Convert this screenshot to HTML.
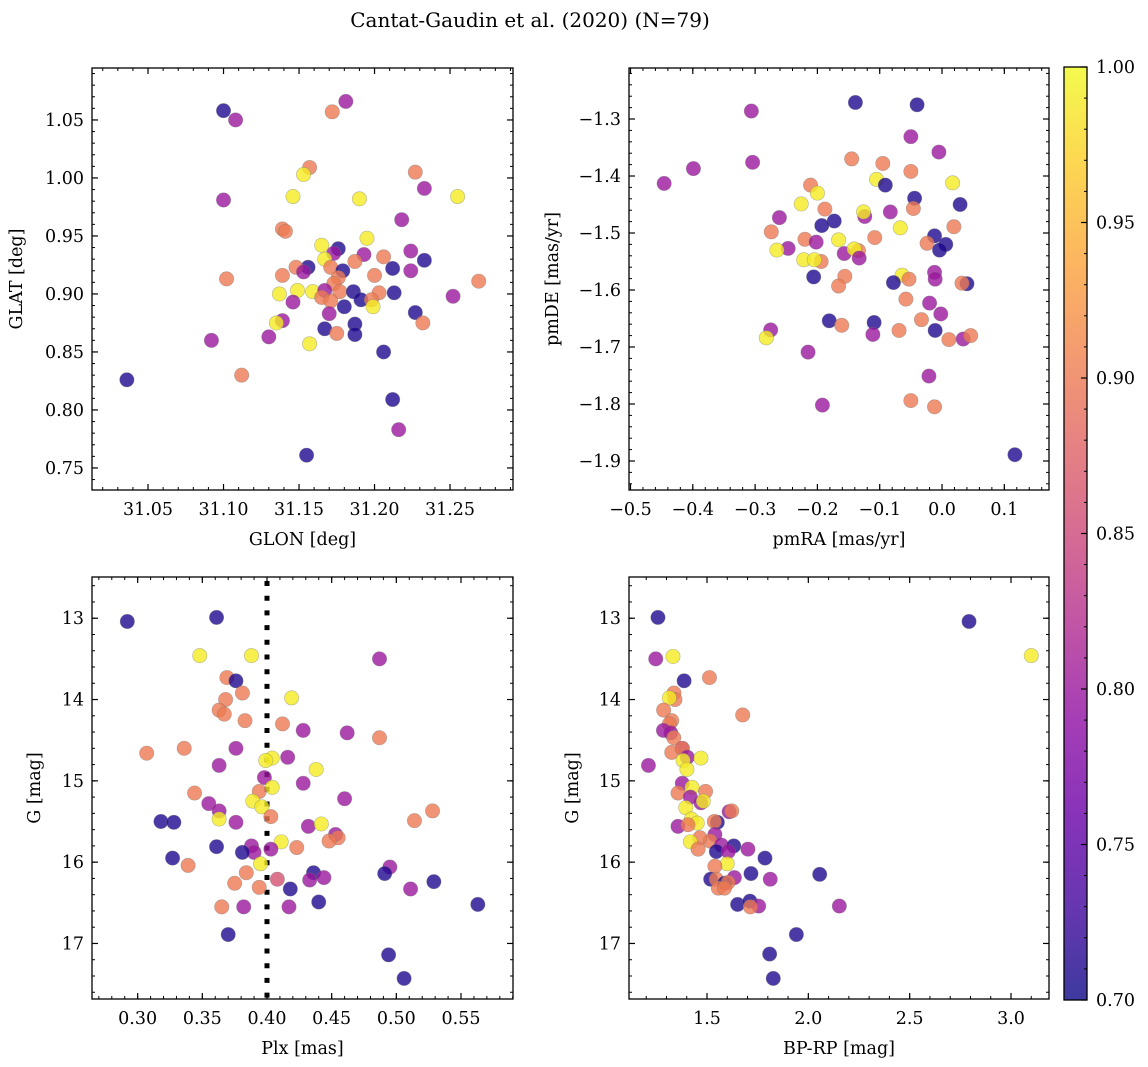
<!DOCTYPE html>
<html><head><meta charset="utf-8"><style>
html,body{margin:0;padding:0;background:#fff}
svg{display:block;font-family:"DejaVu Serif","Liberation Serif",serif}
</style></head><body>
<svg id="fig" width="1148" height="1067" viewBox="0 0 1148 1067">
<text x="530" y="27" text-anchor="middle" font-size="20">Cantat-Gaudin et al. (2020) (N=79)</text>
</svg>
<script>
// Panel 1: GLON / GLAT
const glon=[31.100,31.108,31.172,31.181,31.157,31.153,31.227,31.233,31.100,31.146,31.190,31.255,31.218,31.139,31.141,31.195,31.165,31.176,31.173,31.193,31.224,31.206,31.233,31.167,31.187,31.156,31.148,31.171,31.153,31.179,31.212,31.224,31.102,31.139,31.176,31.200,31.269,31.173,31.137,31.149,31.159,31.167,31.177,31.186,31.203,31.213,31.252,31.165,31.171,31.191,31.198,31.146,31.180,31.199,31.170,31.227,31.139,31.135,31.232,31.187,31.167,31.175,31.187,31.092,31.130,31.157,31.206,31.036,31.112,31.212,31.216,31.155];
const glat=[1.058,1.050,1.057,1.066,1.009,1.003,1.005,0.991,0.981,0.984,0.982,0.984,0.964,0.956,0.954,0.948,0.942,0.939,0.935,0.934,0.937,0.932,0.929,0.930,0.928,0.923,0.923,0.923,0.919,0.920,0.922,0.920,0.913,0.916,0.914,0.916,0.911,0.909,0.900,0.903,0.902,0.903,0.902,0.902,0.901,0.901,0.898,0.897,0.894,0.895,0.895,0.893,0.889,0.889,0.883,0.884,0.877,0.875,0.875,0.874,0.870,0.866,0.865,0.860,0.863,0.857,0.850,0.826,0.830,0.809,0.783,0.761];
const prob1=[0.71,0.80,0.90,0.80,0.90,0.99,0.90,0.80,0.80,0.99,0.99,0.99,0.80,0.90,0.90,0.99,0.99,0.71,0.80,0.80,0.80,0.90,0.71,0.99,0.90,0.71,0.90,0.90,0.80,0.71,0.71,0.80,0.90,0.90,0.90,0.90,0.90,0.90,0.99,0.99,0.99,0.80,0.90,0.71,0.90,0.71,0.80,0.90,0.90,0.71,0.90,0.80,0.71,0.99,0.80,0.71,0.80,0.99,0.90,0.71,0.71,0.90,0.71,0.80,0.80,0.99,0.71,0.71,0.90,0.71,0.80,0.71];
// Panel 2: pmRA / pmDE
const pmra=[-0.139,-0.040,-0.306,-0.050,-0.005,-0.145,-0.304,-0.095,-0.399,-0.050,-0.446,-0.105,-0.091,0.017,-0.211,-0.200,-0.044,-0.226,0.029,-0.046,-0.188,-0.124,-0.126,-0.083,-0.261,-0.173,-0.193,-0.067,0.019,-0.274,-0.012,-0.108,-0.220,-0.166,-0.202,-0.024,0.006,-0.004,-0.247,-0.265,-0.157,-0.134,-0.141,-0.133,-0.194,-0.222,-0.205,-0.012,-0.011,-0.156,-0.206,-0.064,-0.053,-0.078,0.040,0.032,-0.166,-0.058,-0.020,-0.002,-0.033,-0.181,-0.109,-0.161,-0.275,-0.011,-0.069,-0.111,0.011,0.034,0.046,-0.282,-0.215,-0.021,-0.192,-0.050,-0.012,0.117];
const pmde=[-1.271,-1.275,-1.286,-1.331,-1.358,-1.370,-1.376,-1.378,-1.387,-1.392,-1.413,-1.406,-1.416,-1.412,-1.416,-1.430,-1.439,-1.449,-1.450,-1.457,-1.458,-1.471,-1.463,-1.463,-1.473,-1.479,-1.487,-1.491,-1.489,-1.498,-1.505,-1.508,-1.511,-1.512,-1.516,-1.518,-1.520,-1.530,-1.527,-1.530,-1.536,-1.531,-1.528,-1.544,-1.550,-1.547,-1.547,-1.569,-1.581,-1.576,-1.577,-1.574,-1.581,-1.587,-1.589,-1.588,-1.593,-1.616,-1.623,-1.642,-1.652,-1.654,-1.657,-1.662,-1.670,-1.671,-1.671,-1.678,-1.687,-1.686,-1.680,-1.684,-1.709,-1.751,-1.802,-1.794,-1.805,-1.889];
const prob2=[0.71,0.71,0.80,0.80,0.80,0.90,0.80,0.90,0.80,0.90,0.80,0.99,0.71,0.99,0.90,0.99,0.71,0.99,0.71,0.90,0.90,0.80,0.99,0.80,0.80,0.71,0.71,0.99,0.90,0.90,0.71,0.90,0.90,0.99,0.80,0.90,0.71,0.71,0.80,0.99,0.80,0.90,0.99,0.80,0.90,0.99,0.99,0.80,0.80,0.90,0.71,0.99,0.90,0.71,0.71,0.90,0.90,0.90,0.80,0.80,0.90,0.71,0.71,0.90,0.80,0.71,0.90,0.80,0.90,0.80,0.90,0.99,0.80,0.80,0.80,0.90,0.90,0.71];
// Panel 3: Plx / G
const plx=[0.292,0.361,0.348,0.388,0.487,0.369,0.376,0.381,0.368,0.419,0.363,0.367,0.383,0.412,0.428,0.462,0.487,0.376,0.307,0.336,0.363,0.416,0.404,0.399,0.438,0.398,0.428,0.404,0.394,0.344,0.460,0.355,0.389,0.396,0.528,0.363,0.403,0.363,0.514,0.318,0.328,0.376,0.432,0.442,0.453,0.455,0.448,0.411,0.361,0.388,0.390,0.381,0.403,0.423,0.327,0.395,0.339,0.495,0.491,0.436,0.384,0.408,0.433,0.444,0.529,0.375,0.394,0.418,0.511,0.440,0.563,0.365,0.382,0.417,0.370,0.494,0.506];
const g3=[13.04,12.99,13.46,13.46,13.50,13.73,13.77,13.92,14.00,13.98,14.13,14.18,14.26,14.30,14.38,14.41,14.47,14.60,14.66,14.60,14.81,14.71,14.72,14.75,14.86,14.96,15.03,15.08,15.13,15.15,15.22,15.28,15.25,15.32,15.37,15.37,15.44,15.47,15.49,15.50,15.51,15.51,15.56,15.53,15.66,15.70,15.74,15.75,15.81,15.80,15.88,15.88,15.84,15.82,15.95,16.02,16.04,16.06,16.14,16.13,16.13,16.21,16.22,16.19,16.24,16.26,16.31,16.33,16.33,16.49,16.52,16.55,16.55,16.55,16.89,17.14,17.43];
const prob3=[0.71,0.71,0.99,0.99,0.80,0.90,0.71,0.90,0.90,0.99,0.90,0.90,0.90,0.90,0.80,0.80,0.90,0.80,0.90,0.90,0.80,0.80,0.99,0.99,0.99,0.80,0.80,0.99,0.90,0.90,0.80,0.80,0.99,0.99,0.90,0.80,0.90,0.99,0.90,0.71,0.71,0.80,0.80,0.99,0.80,0.90,0.90,0.99,0.71,0.80,0.80,0.71,0.80,0.90,0.71,0.99,0.90,0.80,0.71,0.71,0.90,0.86,0.80,0.80,0.71,0.90,0.90,0.71,0.80,0.71,0.71,0.90,0.80,0.80,0.71,0.71,0.71];
// Panel 4: BP-RP / G
const bprp=[1.258,2.793,1.247,1.332,3.100,1.387,1.512,1.337,1.342,1.314,1.286,1.676,1.326,1.314,1.285,1.321,1.336,1.378,1.326,1.378,1.211,1.403,1.382,1.470,1.401,1.378,1.426,1.493,1.357,1.418,1.470,1.482,1.395,1.609,1.622,1.551,1.536,1.423,1.452,1.357,1.406,1.539,1.515,1.465,1.418,1.571,1.632,1.546,1.605,1.456,1.702,1.786,1.600,1.539,1.717,2.056,1.635,1.518,1.546,1.812,1.587,1.604,1.556,1.586,1.651,1.712,1.755,1.714,2.153,1.941,1.809,1.827];
const g4=[12.99,13.04,13.50,13.47,13.46,13.77,13.73,13.92,14.00,13.98,14.13,14.19,14.26,14.30,14.38,14.41,14.47,14.60,14.65,14.60,14.81,14.71,14.75,14.72,14.86,15.03,15.08,15.13,15.15,15.20,15.27,15.25,15.33,15.38,15.37,15.51,15.50,15.47,15.52,15.56,15.54,15.66,15.74,15.70,15.75,15.79,15.80,15.87,15.87,15.84,15.84,15.95,16.02,16.05,16.14,16.15,16.19,16.21,16.21,16.21,16.26,16.25,16.32,16.32,16.52,16.48,16.54,16.55,16.54,16.89,17.13,17.43];
const prob4=[0.71,0.71,0.80,0.99,0.99,0.71,0.90,0.90,0.90,0.99,0.90,0.90,0.90,0.90,0.80,0.80,0.90,0.80,0.90,0.90,0.80,0.80,0.99,0.99,0.99,0.80,0.99,0.90,0.90,0.80,0.80,0.99,0.99,0.80,0.90,0.71,0.90,0.99,0.99,0.80,0.90,0.80,0.90,0.90,0.99,0.80,0.71,0.71,0.80,0.90,0.80,0.71,0.99,0.90,0.71,0.71,0.80,0.71,0.90,0.80,0.71,0.90,0.90,0.90,0.71,0.71,0.80,0.90,0.80,0.71,0.71,0.71];
const xt1=["31.05","31.10","31.15","31.20","31.25"], yt1=["0.75","0.80","0.85","0.90","0.95","1.00","1.05"];
const xt2=["−0.5","−0.4","−0.3","−0.2","−0.1","0.0","0.1"], yt2=["−1.9","−1.8","−1.7","−1.6","−1.5","−1.4","−1.3"];
const xt3=["0.30","0.35","0.40","0.45","0.50","0.55"], yt3=["13","14","15","16","17"];
const xt4=["1.5","2.0","2.5","3.0"];
const cbTicks=["0.70","0.75","0.80","0.85","0.90","0.95","1.00"];

const NS="http://www.w3.org/2000/svg";
const svg=document.getElementById('fig');
function el(tag,attrs,parent){const e=document.createElementNS(NS,tag);for(const k in attrs)e.setAttribute(k,attrs[k]);(parent||svg).appendChild(e);return e;}
const stops=[[13,8,135],[65,4,157],[106,0,168],[143,13,164],[177,42,144],[204,71,120],[225,100,98],[242,132,75],[252,166,54],[252,206,37],[240,249,33]];
function plasma(t){t=Math.max(0,Math.min(1,t));const f=t*10,i=Math.min(9,Math.floor(f)),u=f-i;const a=stops[i],b=stops[i+1];return 'rgb('+a.map((v,k)=>Math.round(v+(b[k]-v)*u)).join(',')+')';}
const cnorm=v=>(v-0.7)/0.3;
const FS=17.5;

function panel(o){
  const g=el('g',{});
  
  
  const sx=v=>o.x0+(v-o.xl[0])/(o.xl[1]-o.xl[0])*(o.x1-o.x0);
  const sy=v=>o.y1-(v-o.yl[0])/(o.yl[1]-o.yl[0])*(o.y1-o.y0);
  const eps=1e-9;
  for(let v=Math.ceil(o.xl[0]/o.xm-eps)*o.xm;v<=o.xl[1]+eps;v+=o.xm){const x=sx(v);
    el('line',{x1:x,x2:x,y1:o.y1,y2:o.y1-3,stroke:'#000','stroke-width':1},g);
    el('line',{x1:x,x2:x,y1:o.y0,y2:o.y0+3,stroke:'#000','stroke-width':1},g);}
  for(let v=Math.ceil(Math.min(...o.yl)/o.ym-eps)*o.ym;v<=Math.max(...o.yl)+eps;v+=o.ym){const y=sy(v);
    el('line',{x1:o.x0,x2:o.x0+3,y1:y,y2:y,stroke:'#000','stroke-width':1},g);
    el('line',{x1:o.x1,x2:o.x1-3,y1:y,y2:y,stroke:'#000','stroke-width':1},g);}
  o.xt.forEach(s=>{const v=parseFloat(s.replace('−','-'));const x=sx(v);
    el('line',{x1:x,x2:x,y1:o.y1,y2:o.y1-6,stroke:'#000','stroke-width':1.2},g);
    el('line',{x1:x,x2:x,y1:o.y0,y2:o.y0+6,stroke:'#000','stroke-width':1.2},g);
    const t=el('text',{x:x,y:o.y1+25,'text-anchor':'middle','font-size':FS},g);t.textContent=s;
    
    });
  o.yt.forEach(s=>{const v=parseFloat(s.replace('−','-'));const y=sy(v);
    el('line',{x1:o.x0,x2:o.x0+6,y1:y,y2:y,stroke:'#000','stroke-width':1.2},g);
    el('line',{x1:o.x1,x2:o.x1-6,y1:y,y2:y,stroke:'#000','stroke-width':1.2},g);
    const t=el('text',{x:o.x0-8,y:y+6,'text-anchor':'end','font-size':FS},g);t.textContent=s;
    
    });
  if(o.vline!==undefined){const x=sx(o.vline);
    const l=el('line',{x1:x,x2:x,y1:o.y0+4,y2:o.y1,stroke:'#000','stroke-width':5,'stroke-dasharray':'5 9.7'},g);
    
    }
  o.xs.forEach((v,i)=>{const c=el('circle',{cx:sx(v),cy:sy(o.ys[i]),r:7.2,fill:plasma(cnorm(o.cs[i])),'fill-opacity':0.8,stroke:'#777','stroke-opacity':0.5,'stroke-width':0.6},g);
    
    });
  const f=el('rect',{x:o.x0,y:o.y0,width:o.x1-o.x0,height:o.y1-o.y0,fill:'none',stroke:'#000','stroke-width':1.3},g);
  
  
  const xl=el('text',{x:(o.x0+o.x1)/2,y:o.y1+55,'text-anchor':'middle','font-size':FS},g);xl.textContent=o.xlab;
  
  
  const yx=o.ylx,yy=(o.y0+o.y1)/2;
  const yl=el('text',{x:yx,y:yy,'text-anchor':'middle','font-size':FS,transform:'rotate(-90 '+yx+' '+yy+')'},g);yl.textContent=o.ylab;
  
  
}
panel({name:'glon-glat-panel',x0:92,x1:513,y0:68,y1:490,xl:[31.0129,31.2917],yl:[0.731,1.0948],xm:0.01,ym:0.01,xt:xt1,yt:yt1,xs:glon,ys:glat,cs:prob1,xlab:'GLON [deg]',ylab:'GLAT [deg]',ylx:22});
panel({name:'proper-motion-panel',x0:629,x1:1049,y0:68,y1:490,xl:[-0.5024,0.1717],yl:[-1.9509,-1.2105],xm:0.02,ym:0.02,xt:xt2,yt:yt2,xs:pmra,ys:pmde,cs:prob2,xlab:'pmRA [mas/yr]',ylab:'pmDE [mas/yr]',ylx:558});
panel({name:'plx-g-panel',x0:92,x1:513,y0:577,y1:999,xl:[0.2647,0.5902],yl:[17.683,12.493],xm:0.01,ym:0.2,xt:xt3,yt:yt3,xs:plx,ys:g3,cs:prob3,xlab:'Plx [mas]',ylab:'G [mag]',ylx:40,vline:0.40});
panel({name:'cmd-panel',x0:629,x1:1049,y0:577,y1:999,xl:[1.1151,3.1875],yl:[17.683,12.493],xm:0.1,ym:0.2,xt:xt4,yt:yt3,xs:bprp,ys:g4,cs:prob4,xlab:'BP-RP [mag]',ylab:'G [mag]',ylx:578});

// colorbar
const cb=el('g',{});


const defs=el('defs',{},cb);
const lg=el('linearGradient',{id:'pl',x1:0,y1:1,x2:0,y2:0},defs);
stops.forEach((s,i)=>el('stop',{offset:(i*10)+'%','stop-color':'rgb('+s.join(',')+')'},lg));
const cx0=1064,cx1=1087,cy0=67,cy1=1000;
el('rect',{x:cx0,y:cy0,width:cx1-cx0,height:cy1-cy0,fill:'url(#pl)','fill-opacity':0.8},cb);
el('rect',{x:cx0,y:cy0,width:cx1-cx0,height:cy1-cy0,fill:'none',stroke:'#000','stroke-width':1.3},cb);
const cyv=v=>cy1-(v-0.7)/0.3*(cy1-cy0);
for(let k=0;k<=30;k++){const y=cyv(0.7+k*0.01);el('line',{x1:cx1,x2:cx1-3,y1:y,y2:y,stroke:'#000','stroke-width':1},cb);}
cbTicks.forEach(s=>{const y=cyv(parseFloat(s));el('line',{x1:cx1,x2:cx1-6,y1:y,y2:y,stroke:'#000','stroke-width':1.2},cb);
  const t=el('text',{x:cx1+9,y:y+6,'font-size':FS},cb);t.textContent=s;
  
  });
</script>
</body></html>
